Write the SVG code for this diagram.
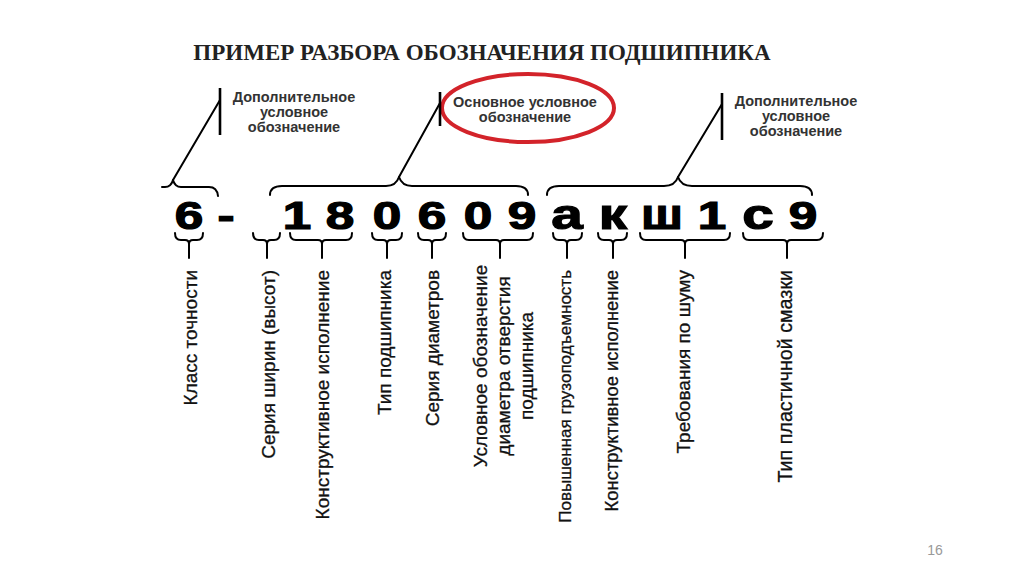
<svg xmlns="http://www.w3.org/2000/svg" width="1024" height="576" viewBox="0 0 1024 576">
<style>
.title{font-family:"Liberation Serif","Times New Roman",serif;font-weight:bold;font-size:23px;fill:#222;text-anchor:middle}
.note{font-family:"Liberation Sans",Arial,sans-serif;font-weight:bold;font-size:14.5px;fill:#333;text-anchor:middle}
.big{font-family:"Liberation Sans",Arial,sans-serif;font-weight:bold;font-size:38px;fill:#000;stroke:#000;stroke-width:1.2;text-anchor:middle}
.lc{font-size:42px}
.lbl{font-family:"Liberation Sans",Arial,sans-serif;font-size:19px;fill:#111;stroke:#111;stroke-width:0.3;text-anchor:end}
.lblc{text-anchor:middle}
.ln{fill:none;stroke:#000;stroke-width:2;stroke-linecap:round;stroke-linejoin:round}
.vl{fill:none;stroke:#000;stroke-width:2.6}
.pg{font-family:"Liberation Sans",Arial,sans-serif;font-size:14px;fill:#999;text-anchor:middle}
</style>
<rect width="1024" height="576" fill="#fff"/>
<text class="title" x="482" y="60">ПРИМЕР РАЗБОРА ОБОЗНАЧЕНИЯ ПОДШИПНИКА</text>

<g id="note-left">
<text class="note" x="294" y="102">Дополнительное</text>
<text class="note" x="294" y="117">условное</text>
<text class="note" x="294" y="132">обозначение</text>
</g>
<g id="note-main">
<ellipse cx="528" cy="108" rx="86" ry="34" fill="none" stroke="#d3232a" stroke-width="4"/>
<text class="note" x="525" y="107">Основное условное</text>
<text class="note" x="525" y="122">обозначение</text>
</g>
<g id="note-right">
<text class="note" x="796" y="106">Дополнительное</text>
<text class="note" x="796" y="121">условное</text>
<text class="note" x="796" y="136">обозначение</text>
</g>

<g id="code">
<text class="big" transform="translate(189,229) scale(1.35,1)">6</text>
<text class="big" transform="translate(226,229) scale(1.35,1)">-</text>
<text class="big" transform="translate(297,229) scale(1.35,1)">1</text>
<text class="big" transform="translate(340,229) scale(1.35,1)">8</text>
<text class="big" transform="translate(387,229) scale(1.35,1)">0</text>
<text class="big" transform="translate(432,229) scale(1.35,1)">6</text>
<text class="big" transform="translate(478,229) scale(1.35,1)">0</text>
<text class="big" transform="translate(522,229) scale(1.35,1)">9</text>
<text class="big lc" transform="translate(567,229) scale(1.35,1)">а</text>
<text class="big lc" transform="translate(613,229) scale(1.35,1)">к</text>
<text class="big lc" transform="translate(662,229) scale(1.2,1)">ш</text>
<text class="big" transform="translate(712,229) scale(1.35,1)">1</text>
<text class="big lc" transform="translate(758,229) scale(1.35,1)">с</text>
<text class="big" transform="translate(803,229) scale(1.35,1)">9</text>
</g>

<g id="connectors">
<path class="ln" d="M162,187 H165 Q171,187 173,180 Q175,187 181,187 H209 Q217,187 218,196"/>
<path class="ln" d="M173,180 L220,100"/>
<path class="vl" d="M220,88 V135"/>
<path class="ln" d="M270,195 Q270,186 282,186 H386 Q396,186 399,177 Q402,186 412,186 H516 Q528,186 528,195"/>
<path class="ln" d="M399,177 L440,103"/>
<path class="vl" d="M440,92 V126"/>
<path class="ln" d="M547,195 Q547,186 559,186 H664 Q675,186 678,177 Q681,186 692,186 H800 Q812,186 812,195"/>
<path class="ln" d="M678,177 L722,104"/>
<path class="vl" d="M722,93 V140"/>

<path class="ln" d="M175,233 Q175,240 181,240 H185 Q189,240 189,244 Q189,240 193,240 H197 Q203,240 203,233 M189,244 V258"/>
<path class="ln" d="M253,233 Q253,240 259,240 H263 Q267,240 267,244 Q267,240 271,240 H274 Q280,240 280,233 M267,244 V258"/>
<path class="ln" d="M290,233 Q290,240 296,240 H318 Q322,240 322,244 Q322,240 326,240 H346 Q352,240 352,233 M322,244 V258"/>
<path class="ln" d="M372,233 Q372,240 378,240 H383 Q387,240 387,244 Q387,240 391,240 H396 Q402,240 402,233 M387,244 V258"/>
<path class="ln" d="M418,233 Q418,240 424,240 H428 Q432,240 432,244 Q432,240 436,240 H440 Q446,240 446,233 M432,244 V258"/>
<path class="ln" d="M463,233 Q463,240 469,240 H496 Q500,240 500,244 Q500,240 504,240 H527 Q533,240 533,233 M500,244 V258"/>
<path class="ln" d="M553,233 Q553,240 559,240 H563 Q567,240 567,244 Q567,240 571,240 H576 Q582,240 582,233 M567,244 V258"/>
<path class="ln" d="M598,233 Q598,240 604,240 H609 Q613,240 613,244 Q613,240 617,240 H621 Q627,240 627,233 M613,244 V258"/>
<path class="ln" d="M640,233 Q640,240 646,240 H681 Q685,240 685,244 Q685,240 689,240 H724 Q730,240 730,233 M685,244 V258"/>
<path class="ln" d="M743,233 Q743,240 749,240 H783 Q787,240 787,244 Q787,240 791,240 H817 Q823,240 823,233 M787,244 V258"/>
</g>

<g id="labels">
<text class="lbl" transform="translate(190,270) rotate(-90)" dy=".35em">Класс точности</text>
<text class="lbl" transform="translate(268,270) rotate(-90)" dy=".35em">Серия ширин (высот)</text>
<text class="lbl" transform="translate(322,270) rotate(-90)" dy=".35em">Конструктивное исполнение</text>
<text class="lbl" transform="translate(384,270) rotate(-90)" dy=".35em">Тип подшипника</text>
<text class="lbl" transform="translate(432,270) rotate(-90)" dy=".35em">Серия диаметров</text>
<text class="lbl lblc" transform="translate(480,366) rotate(-90)" dy=".35em">Условное обозначение</text>
<text class="lbl lblc" transform="translate(503,366) rotate(-90)" dy=".35em">диаметра отверстия</text>
<text class="lbl lblc" transform="translate(526,366) rotate(-90)" dy=".35em">подшипника</text>
<text class="lbl" transform="translate(565,270) rotate(-90)" dy=".35em" style="font-size:17px">Повышенная грузоподъемность</text>
<text class="lbl" transform="translate(612,270) rotate(-90)" dy=".35em" style="font-size:18.4px">Конструктивное исполнение</text>
<text class="lbl" transform="translate(683,270) rotate(-90)" dy=".35em">Требования по шуму</text>
<text class="lbl" transform="translate(785,270) rotate(-90)" dy=".35em" style="font-size:19.7px">Тип пластичной смазки</text>
</g>

<text class="pg" x="935" y="555">16</text>
</svg>
